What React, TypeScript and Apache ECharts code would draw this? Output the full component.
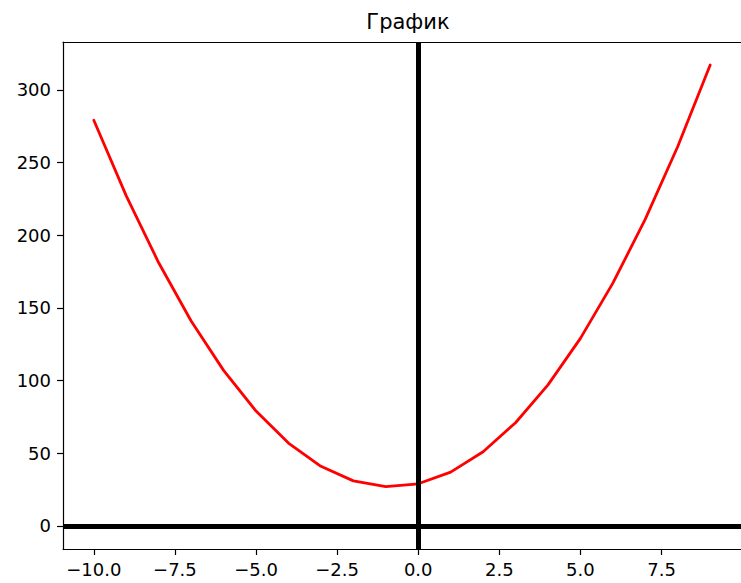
import React, { useEffect, useRef } from "react";
import * as echarts from "echarts";

const xValues = [-10, -9, -8, -7, -6, -5, -4, -3, -2, -1, 0, 1, 2, 3, 4, 5, 6, 7, 8, 9];
const yValues = [279, 227, 181, 141, 107, 79, 57, 41, 31, 27, 29, 37, 51, 71, 97, 129, 167, 211, 261, 317];
const xTicks = [-10, -7.5, -5, -2.5, 0, 2.5, 5, 7.5];
const yTicks = [0, 50, 100, 150, 200, 250, 300];
const titleText = "График";

const X_MIN = -10.95;
const X_MAX = 9.95;
const Y_MIN = -15.85;
const Y_MAX = 332.85;

const FONT = "DejaVu Sans";

function fmtX(v: number) {
  const s = Math.abs(v).toFixed(1);
  return v < 0 ? "\u2212" + s : s;
}

export default function App() {
  const ref = useRef<HTMLDivElement>(null);
  useEffect(() => {
    if (!ref.current) return;
    const chart = echarts.init(ref.current, undefined, { renderer: "svg" });
    const data = xValues.map((x, i) => [x, yValues[i]]);
    chart.setOption({
      animation: false,
      backgroundColor: "#ffffff",
      title: {
        text: titleText,
        left: 403,
        textAlign: "center",
        top: 6,
        textStyle: { fontFamily: FONT, fontSize: 21, fontWeight: "normal", color: "#000" },
      },
      grid: { left: 63, right: -2.5, top: 42, bottom: 34, containLabel: false },
      xAxis: [
        {
          type: "value",
          min: X_MIN,
          max: X_MAX,
          position: "bottom",
          axisLine: { show: true, onZero: false, lineStyle: { color: "#000", width: 1.2 } },
          axisTick: {
            show: true,
            inside: false,
            length: 6,
            lineStyle: { color: "#000", width: 1.2 },
            customValues: xTicks,
          },
          axisLabel: {
            show: true,
            margin: 11,
            customValues: xTicks,
            formatter: (v: number) => fmtX(v),
            fontFamily: FONT,
            fontSize: 18,
            color: "#000",
          },
          splitLine: { show: false },
        },
        {
          type: "value",
          min: X_MIN,
          max: X_MAX,
          position: "top",
          axisLine: { show: true, onZero: false, lineStyle: { color: "#000", width: 1.2 } },
          axisTick: { show: false },
          axisLabel: { show: false },
          splitLine: { show: false },
        },
      ],
      yAxis: {
        type: "value",
        min: Y_MIN,
        max: Y_MAX,
        position: "left",
        axisLine: { show: true, onZero: false, lineStyle: { color: "#000", width: 1.2 } },
        axisTick: {
          show: true,
          inside: false,
          length: 6,
          lineStyle: { color: "#000", width: 1.2 },
          customValues: yTicks,
        },
        axisLabel: {
          show: true,
          margin: 12,
          customValues: yTicks,
          formatter: (v: number) => String(v),
          fontFamily: FONT,
          fontSize: 18,
          color: "#000",
        },
        splitLine: { show: false },
      },
      series: [
        {
          type: "line",
          xAxisIndex: 0,
          data,
          showSymbol: false,
          symbol: "none",
          lineStyle: { color: "#ff0000", width: 2.8, join: "round", cap: "round" },
          z: 2,
          markLine: {
            silent: true,
            symbol: ["none", "none"],
            label: { show: false },
            lineStyle: { color: "#000", width: 5, type: "solid" },
            data: [{ yAxis: 0 }, { xAxis: 0 }],
          },
        },
      ],
    });
    return () => chart.dispose();
  }, []);
  return (
    <div
      ref={ref}
      style={{ position: "fixed", left: 0, top: 0, width: 741, height: 583, background: "#fff" }}
    />
  );
}
